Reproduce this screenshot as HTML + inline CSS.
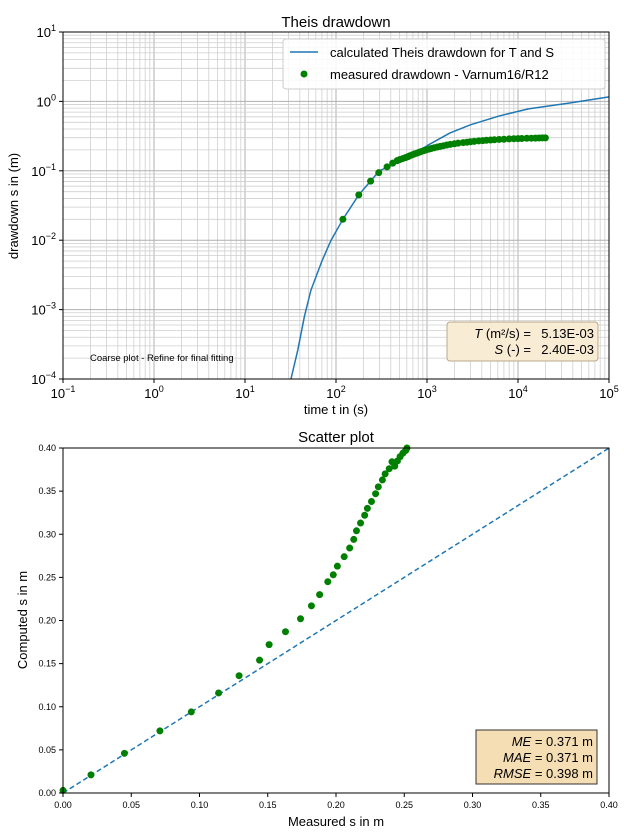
<!DOCTYPE html>
<html><head><meta charset="utf-8"><style>
html,body{margin:0;padding:0;background:#fff}
svg{display:block;font-family:"Liberation Sans","DejaVu Sans",sans-serif}
</style></head><body>
<svg id="c" width="624" height="835" viewBox="0 0 624 835" xmlns="http://www.w3.org/2000/svg"></svg>
<script>
// ---- Theis plot data ----
const curveT = [32,38,45,53,70,88,119,178,300,650,1000,1780,3000,6300,13000,37000,100000];
const curveS = [0.0001,0.00026,0.0008,0.0019,0.005,0.0099,0.02,0.045,0.10,0.158,0.23,0.35,0.46,0.62,0.78,0.95,1.16];
const measT = [119,178,240,295,364,420,470,500,540,580,620,650,690,730,780,820,870,920,980,1050,1120,1200,1300,1400,1520,1650,1800,2000,2200,2500,2750,3000,3300,3700,4100,4500,5000,5500,6200,7000,8000,9000,10000,11000,12500,14000,15500,17000,18500,20000];
const measS = [0.02,0.045,0.071,0.094,0.114,0.129,0.14,0.145,0.15,0.155,0.16,0.165,0.17,0.175,0.18,0.185,0.19,0.195,0.20,0.205,0.21,0.215,0.22,0.225,0.23,0.235,0.24,0.245,0.25,0.255,0.258,0.262,0.265,0.27,0.272,0.275,0.278,0.28,0.283,0.285,0.288,0.29,0.291,0.292,0.294,0.295,0.296,0.297,0.298,0.298];
const xTickExp = [-1,0,1,2,3,4,5];
const yTickExp = [-4,-3,-2,-1,0,1];
// ---- Scatter plot data ----
const scMeasured = [0.0,0.0205,0.045,0.071,0.094,0.114,0.129,0.144,0.151,0.163,0.174,0.182,0.188,0.194,0.198,0.201,0.206,0.210,0.213,0.215,0.218,0.221,0.223,0.226,0.229,0.231,0.234,0.236,0.239,0.241,0.243,0.245,0.247,0.249,0.251,0.252];
const scComputed = [0.003,0.021,0.046,0.072,0.094,0.116,0.136,0.154,0.172,0.187,0.202,0.217,0.230,0.245,0.253,0.263,0.274,0.284,0.294,0.304,0.313,0.322,0.330,0.338,0.347,0.355,0.363,0.370,0.376,0.384,0.379,0.385,0.390,0.394,0.397,0.400];
const scTicks = ["0.00","0.05","0.10","0.15","0.20","0.25","0.30","0.35","0.40"];

const NS="http://www.w3.org/2000/svg";
const svg=document.getElementById('c');
function mk(tag,attrs,parent){const e=document.createElementNS(NS,tag);for(const k in attrs)e.setAttribute(k,attrs[k]);(parent||svg).appendChild(e);return e;}

// ===== Top chart =====
const L=63,R=609,T=32,B=379;
const xl=t=>L+(Math.log10(t)+1)/6*(R-L);
const yl=s=>T+(1-Math.log10(s))/5*(B-T);
const g1=mk('g',{});


for(let e=-1;e<5;e++)for(let m=1;m<10;m++){const x=xl(m*Math.pow(10,e));mk('line',{x1:x,x2:x,y1:T,y2:B,stroke:m==1?'#b0b0b0':'#cfcfcf','stroke-width':m==1?1:0.8},g1);}
for(let e=-4;e<1;e++)for(let m=1;m<10;m++){const y=yl(m*Math.pow(10,e));mk('line',{x1:L,x2:R,y1:y,y2:y,stroke:m==1?'#b0b0b0':'#cfcfcf','stroke-width':m==1?1:0.8},g1);}
mk('line',{x1:L,x2:R,y1:yl(10),y2:yl(10),stroke:'#b0b0b0'},g1);
const cp=mk('polyline',{points:curveT.map((t,i)=>xl(t)+','+yl(curveS[i])).join(' '),fill:'none',stroke:'#1f77b4','stroke-width':1.5,'stroke-linejoin':'round'},g1);


measT.forEach((t,i)=>{const c=mk('circle',{cx:xl(t),cy:yl(measS[i]),r:3.5,fill:'#008000'},g1);

});
mk('rect',{x:L,y:T,width:R-L,height:B-T,fill:'none',stroke:'#000','stroke-width':1},g1);
xTickExp.forEach(e=>{const x=xl(Math.pow(10,e));mk('line',{x1:x,x2:x,y1:B,y2:B+4,stroke:'#000'},g1);
const t=mk('text',{x:x,y:B+19,'text-anchor':'middle','font-size':13},g1);t.innerHTML='10<tspan font-size="9" dy="-6">'+(e<0?'−'+(-e):e)+'</tspan>';

});
yTickExp.forEach(e=>{const y=yl(Math.pow(10,e));mk('line',{x1:L-4,x2:L,y1:y,y2:y,stroke:'#000'},g1);
const t=mk('text',{x:L-7,y:y+5,'text-anchor':'end','font-size':13},g1);t.innerHTML='10<tspan font-size="9" dy="-6">'+(e<0?'−'+(-e):e)+'</tspan>';

});
let tx=mk('text',{x:336,y:27,'text-anchor':'middle','font-size':15},g1);tx.textContent='Theis drawdown';

tx=mk('text',{x:336,y:414,'text-anchor':'middle','font-size':13},g1);tx.textContent='time t in (s)';

tx=mk('text',{x:18,y:206,'text-anchor':'middle','font-size':13,transform:'rotate(-90 18 206)'},g1);tx.textContent='drawdown s in (m)';

tx=mk('text',{x:90,y:361,'font-size':9.5},g1);tx.textContent='Coarse plot - Refine for final fitting';

const lg=mk('g',{},g1);
mk('rect',{x:283,y:39,width:322,height:50,rx:3,fill:'#fff','fill-opacity':0.85,stroke:'#ccc'},lg);
mk('line',{x1:290,x2:318,y1:52,y2:52,stroke:'#1f77b4','stroke-width':1.5},lg);
mk('circle',{cx:304,cy:74,r:3.5,fill:'#008000'},lg);
tx=mk('text',{x:330,y:57,'font-size':13},lg);tx.textContent='calculated Theis drawdown for T and S';
tx=mk('text',{x:330,y:79,'font-size':13},lg);tx.textContent='measured drawdown - Varnum16/R12';
const pb=mk('g',{},g1);
mk('rect',{x:447,y:322,width:151,height:39,rx:3,fill:'#f9ecd5',stroke:'#b8a88a'},pb);
tx=mk('text',{x:531,y:338,'text-anchor':'end','font-size':13},pb);tx.innerHTML='<tspan font-style="italic">T</tspan> (m²/s) =';
tx=mk('text',{x:594,y:338,'text-anchor':'end','font-size':13},pb);tx.textContent='5.13E-03';
tx=mk('text',{x:531,y:354,'text-anchor':'end','font-size':13},pb);tx.innerHTML='<tspan font-style="italic">S</tspan> (-) =';
tx=mk('text',{x:594,y:354,'text-anchor':'end','font-size':13},pb);tx.textContent='2.40E-03';

// ===== Scatter chart =====
const L2=63,R2=609,T2=448,B2=793;
const xs=v=>L2+v/0.4*(R2-L2), ys=v=>B2-v/0.4*(B2-T2);
const g2=mk('g',{});
const dl=mk('line',{x1:xs(0),y1:ys(0),x2:xs(0.4),y2:ys(0.4),stroke:'#1f77b4','stroke-width':1.5,'stroke-dasharray':'5,3'},g2);

scMeasured.forEach((m,i)=>{const c=mk('circle',{cx:xs(m),cy:ys(scComputed[i]),r:3.5,fill:'#008000'},g2);

});
mk('rect',{x:L2,y:T2,width:R2-L2,height:B2-T2,fill:'none',stroke:'#000'},g2);
scTicks.forEach(s=>{const v=parseFloat(s);
mk('line',{x1:xs(v),x2:xs(v),y1:B2,y2:B2+4,stroke:'#000'},g2);
let t=mk('text',{x:xs(v),y:B2+15,'text-anchor':'middle','font-size':9},g2);t.textContent=s;

mk('line',{x1:L2-4,x2:L2,y1:ys(v),y2:ys(v),stroke:'#000'},g2);
t=mk('text',{x:L2-7,y:ys(v)+3,'text-anchor':'end','font-size':9},g2);t.textContent=s;
});
tx=mk('text',{x:336,y:442,'text-anchor':'middle','font-size':15},g2);tx.textContent='Scatter plot';

tx=mk('text',{x:336,y:826,'text-anchor':'middle','font-size':13},g2);tx.textContent='Measured s in m';

tx=mk('text',{x:27,y:620,'text-anchor':'middle','font-size':13,transform:'rotate(-90 27 620)'},g2);tx.textContent='Computed s in m';

const sb=mk('g',{},g2);
mk('rect',{x:476,y:730,width:121,height:54,fill:'#f6deb4',stroke:'#333'},sb);
[['ME','0.371',746],['MAE','0.371',762],['RMSE','0.398',778]].forEach(r=>{
const t=mk('text',{x:593,y:r[2],'text-anchor':'end','font-size':13},sb);
t.innerHTML='<tspan font-style="italic">'+r[0]+'</tspan> = '+r[1]+' m';});
</script>
</body></html>
